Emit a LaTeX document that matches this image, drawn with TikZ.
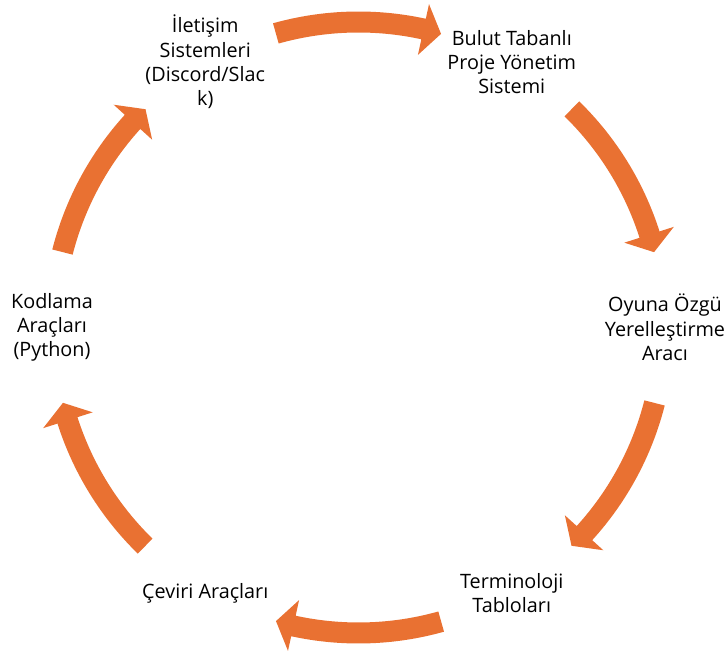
\documentclass[tikz,border=0pt]{standalone}
\usepackage{fontspec}
\setmainfont{Open Sans}
\usetikzlibrary{positioning, calc}
\definecolor{cyorange}{HTML}{E97132}

% one curved block arrow of the cycle, centred on angle #1, running clockwise
\newcommand{\cyclearrow}[1]{%
  \pgfmathsetmacro{\ta}{#1+15.7}\pgfmathsetmacro{\hb}{#1-12.3}\pgfmathsetmacro{\tp}{#1-15.7}%
  \fill[cyorange] ($(c)+(\ta:316pt)$) arc[start angle=\ta, end angle=\hb, radius=316pt]
    -- ($(c)+(\hb:331pt)$) -- ($(c)+(\tp:305pt)$) -- ($(c)+(\hb:279pt)$)
    -- ($(c)+(\hb:295pt)$) arc[start angle=\hb, end angle=\ta, radius=295pt] -- cycle;}

\begin{document}
\begin{tikzpicture}[
      lbl/.style={align=center, text=black, inner sep=0pt, font=\fontsize{19.8}{24.3}\selectfont}]
    \useasboundingbox (0,0) rectangle (727pt,652pt);
    \coordinate (c) at (358.5pt,324.5pt);
    \node[lbl] (iletisim) at ($(c)+(120:306.5pt)$) {İletişim\\Sistemleri\\(Discord/Slac\\k)};
    \node[lbl] (bulut) at ($(c)+(60:306.5pt)$) {Bulut Tabanlı\\Proje Yönetim\\Sistemi};
    \node[lbl] (oyuna) at ($(c)+(0:306.5pt)$) {Oyuna Özgü\\Yerelleştirme\\Aracı};
    \node[lbl] (termin) at ($(c)+(-60:306.5pt)$) {Terminoloji\\Tabloları};
    \node[lbl] (ceviri) at ($(c)+(-120:306.5pt)$) {Çeviri Araçları};
    \node[lbl] (kodlama) at ($(c)+(180:306.5pt)$) {Kodlama\\Araçları\\(Python)};
    \cyclearrow{90} \cyclearrow{30} \cyclearrow{-30}
    \cyclearrow{-90} \cyclearrow{-150} \cyclearrow{150}
  \end{tikzpicture}
\end{document}
